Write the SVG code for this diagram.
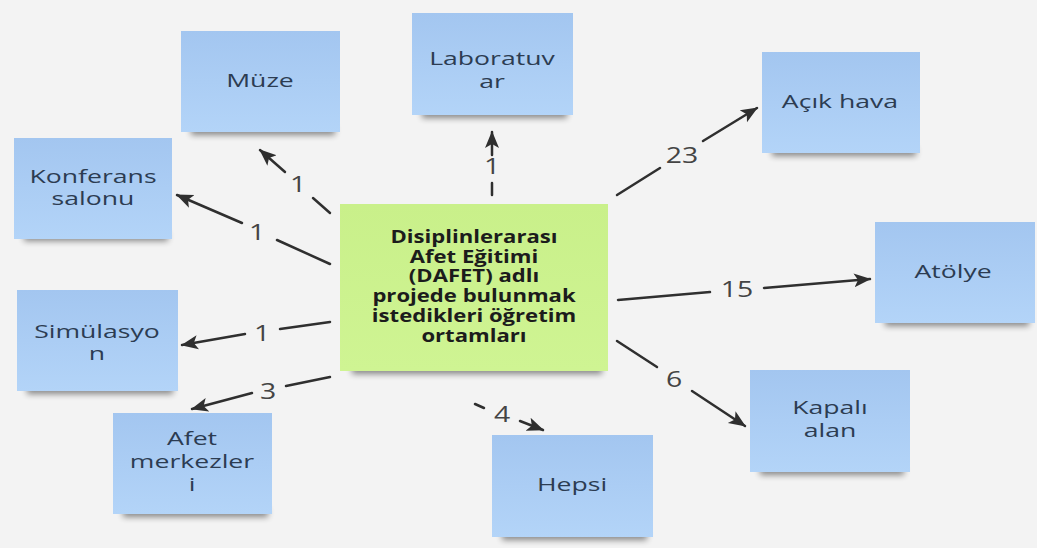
<svg xmlns="http://www.w3.org/2000/svg" width="1037" height="548" viewBox="0 0 1037 548">
<defs>
<linearGradient id="blue" x1="0" y1="0" x2="0" y2="1">
<stop offset="0" stop-color="#a3c6f0"/>
<stop offset="1" stop-color="#b3d4f8"/>
</linearGradient>
<linearGradient id="green" x1="0" y1="0" x2="0" y2="1">
<stop offset="0" stop-color="#c9f08a"/>
<stop offset="1" stop-color="#cff493"/>
</linearGradient>
<filter id="blur" x="-20%" y="-100%" width="140%" height="300%">
<feGaussianBlur stdDeviation="3"/>
</filter>
<marker id="arr" markerUnits="userSpaceOnUse" markerWidth="18" markerHeight="16" viewBox="0 0 18 16" refX="16" refY="8" orient="auto">
<path d="M0,1 L17,8 L0,15 L4,8 Z" fill="#2f2f2f"/>
</marker>
</defs>
<style>
.note{fill:url(#blue)}
.center{fill:url(#green)}
.shadow{fill:#000;opacity:0.45;filter:url(#blur)}
.t{font-family:"Open Sans","Noto Sans",sans-serif;font-size:19px;fill:#2c3c52;text-anchor:middle}
.ct{font-family:"Open Sans","Noto Sans",sans-serif;font-size:17px;font-weight:bold;fill:#1c1c1c;text-anchor:middle}
.lbl{font-family:"Open Sans","Noto Sans",sans-serif;font-size:21px;fill:#444;text-anchor:middle}
.e{stroke:#2f2f2f;stroke-width:2.5;fill:none;stroke-linecap:round}
</style>
<rect width="1037" height="548" fill="#f3f3f3"/>

<g id="muze">
<rect class="shadow" x="191" y="126" width="144" height="9"/>
<rect class="note" x="181" y="31" width="159" height="101"/>
<text class="t" transform="translate(260,87) scale(1.4,1)">Müze</text>
</g>
<g id="konferans">
<rect class="shadow" x="24" y="232" width="144" height="9"/>
<rect class="note" x="14" y="138" width="158" height="101"/>
<text class="t" transform="translate(93,183) scale(1.4,1)"><tspan x="0" y="0">Konferans</tspan><tspan x="0" y="22">salonu</tspan></text>
</g>
<g id="simulasyon">
<rect class="shadow" x="27" y="385" width="146" height="9"/>
<rect class="note" x="17" y="290" width="161" height="101"/>
<text class="t" transform="translate(97,338) scale(1.4,1)"><tspan x="0" y="0">Simülasyo</tspan><tspan x="0" y="22">n</tspan></text>
</g>
<g id="afet">
<rect class="shadow" x="123" y="508" width="145" height="9"/>
<rect class="note" x="113" y="413" width="159" height="101"/>
<text class="t" transform="translate(192,445) scale(1.4,1)"><tspan x="0" y="0">Afet</tspan><tspan x="0" y="23">merkezler</tspan><tspan x="0" y="46">i</tspan></text>
</g>
<g id="laboratuvar">
<rect class="shadow" x="422" y="109" width="145" height="9"/>
<rect class="note" x="412" y="13" width="161" height="102"/>
<text class="t" transform="translate(492,65) scale(1.4,1)"><tspan x="0" y="0">Laboratuv</tspan><tspan x="0" y="23">ar</tspan></text>
</g>
<g id="acikhava">
<rect class="shadow" x="772" y="147" width="144" height="9"/>
<rect class="note" x="762" y="52" width="158" height="101"/>
<text class="t" transform="translate(840,108) scale(1.4,1)">Açık hava</text>
</g>
<g id="atolye">
<rect class="shadow" x="885" y="317" width="144" height="9"/>
<rect class="note" x="875" y="222" width="160" height="101"/>
<text class="t" transform="translate(953,278) scale(1.4,1)">Atölye</text>
</g>
<g id="hepsi">
<rect class="shadow" x="502" y="531" width="145" height="9"/>
<rect class="note" x="492" y="435" width="161" height="102"/>
<text class="t" transform="translate(572,491) scale(1.4,1)">Hepsi</text>
</g>
<g id="kapali">
<rect class="shadow" x="760" y="466" width="144" height="9"/>
<rect class="note" x="750" y="370" width="160" height="102"/>
<text class="t" transform="translate(830,414) scale(1.4,1)"><tspan x="0" y="0">Kapalı</tspan><tspan x="0" y="23">alan</tspan></text>
</g>
<g id="merkez">
<rect class="shadow" x="352" y="364" width="250" height="10"/>
<rect class="center" x="340" y="204" width="268" height="167"/>
<text class="ct" transform="translate(474,243) scale(1.3,1)"><tspan x="0" y="0">Disiplinlerarası</tspan><tspan x="0" y="20">Afet Eğitimi</tspan><tspan x="0" y="39">(DAFET) adlı</tspan><tspan x="0" y="59">projede bulunmak</tspan><tspan x="0" y="79">istedikleri öğretim</tspan><tspan x="0" y="99">ortamları</tspan></text>
</g>

<g id="connectors">
<line class="e" x1="330" y1="213" x2="313" y2="198"/>
<line class="e" x1="285" y1="172" x2="260" y2="150" marker-end="url(#arr)"/>
<text class="lbl" transform="translate(298,192) scale(1.35,1)">1</text>

<line class="e" x1="330" y1="264" x2="277" y2="240"/>
<line class="e" x1="242" y1="223" x2="177" y2="195" marker-end="url(#arr)"/>
<text class="lbl" transform="translate(257,240) scale(1.35,1)">1</text>

<line class="e" x1="330" y1="322" x2="280" y2="329"/>
<line class="e" x1="245" y1="334" x2="182" y2="345" marker-end="url(#arr)"/>
<text class="lbl" transform="translate(262,341) scale(1.35,1)">1</text>

<line class="e" x1="330" y1="377" x2="286" y2="386"/>
<line class="e" x1="252" y1="393" x2="192" y2="409" marker-end="url(#arr)"/>
<text class="lbl" transform="translate(268,399) scale(1.35,1)">3</text>

<line class="e" x1="492" y1="195" x2="492" y2="183"/>
<line class="e" x1="492" y1="155" x2="492" y2="132" marker-end="url(#arr)"/>
<text class="lbl" transform="translate(492,174) scale(1.35,1)">1</text>

<line class="e" x1="617" y1="195" x2="660" y2="168"/>
<line class="e" x1="703" y1="141" x2="757" y2="108" marker-end="url(#arr)"/>
<text class="lbl" transform="translate(682,163) scale(1.35,1)">23</text>

<line class="e" x1="618" y1="300" x2="710" y2="292"/>
<line class="e" x1="764" y1="288" x2="870" y2="279" marker-end="url(#arr)"/>
<text class="lbl" transform="translate(737,297) scale(1.35,1)">15</text>

<line class="e" x1="617" y1="341" x2="657" y2="367"/>
<line class="e" x1="692" y1="391" x2="745" y2="426" marker-end="url(#arr)"/>
<text class="lbl" transform="translate(674,387) scale(1.35,1)">6</text>

<line class="e" x1="475" y1="404" x2="484" y2="408"/>
<line class="e" x1="520" y1="421" x2="543" y2="430" marker-end="url(#arr)"/>
<text class="lbl" transform="translate(502,422) scale(1.35,1)">4</text>
</g>
</svg>
